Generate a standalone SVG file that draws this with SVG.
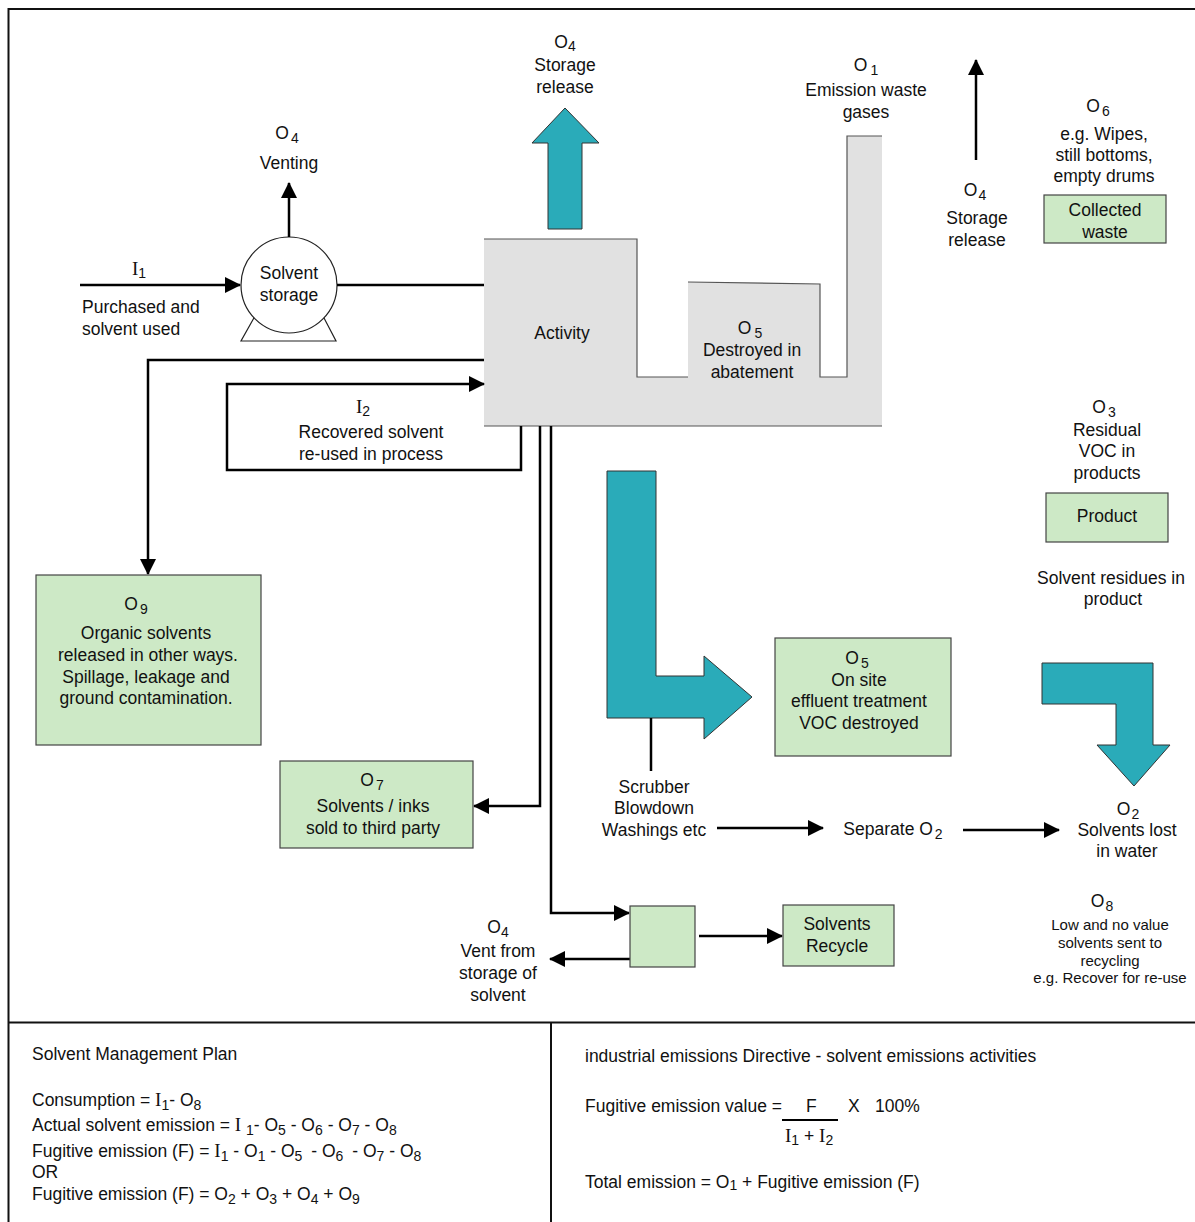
<svg xmlns="http://www.w3.org/2000/svg" width="1195" height="1222" viewBox="0 0 1195 1222">
<style>
text{font-family:"Liberation Sans",Arial,sans-serif;font-size:17.5px;fill:#111}
.c{text-anchor:middle}
.sm{font-size:15px}
.sub{font-size:14px}
.ser{font-family:"Liberation Serif","Times New Roman",serif;font-size:19px}
.frame{stroke:#111;stroke-width:2;fill:none}
.conn{stroke:#000;stroke-width:2.5;fill:none}
.box{fill:#cde9c6;stroke:#444;stroke-width:1.2}
.teal{fill:#2aabb9;stroke:#333;stroke-width:1}
</style>
<defs>
<marker id="ah" markerUnits="userSpaceOnUse" markerWidth="16" markerHeight="16" refX="15" refY="8" orient="auto">
<path d="M0,0 L16,8 L0,16 z" fill="#000"/>
</marker>
</defs>
<rect width="1195" height="1222" fill="#fff"/>
<g id="frame">
<path class="frame" d="M8.5,1222 V9 H1195 M8,1022.5 H1195 M551,1022 V1222"/>
</g>
<g id="activity">
<polygon points="484,239 637,239 637,377 688,377 688,282 820,284 820,377 847,377 847,136 882,136 882,426 484,426" fill="#e1e1e1"/>
<path d="M484,239 H637 V377 H688 M688,282 L820,284 V377 H847 V136 H882 M484,426 H882" fill="none" stroke="#555" stroke-width="1.2"/>
<text class="c" x="562" y="339">Activity</text>
<text class="c" x="750" y="334">O<tspan class="sub" dx="3" dy="4">5</tspan></text>
<text class="c" x="752" y="356">Destroyed in</text>
<text class="c" x="752" y="378">abatement</text>
</g>
<g id="storage">
<polygon points="241,341 336,341 323,316 255,316" fill="#fff" stroke="#222" stroke-width="1.2"/>
<circle cx="289" cy="285" r="48" fill="#fff" stroke="#222" stroke-width="1.2"/>
<text class="c" x="289" y="279">Solvent</text>
<text class="c" x="289" y="301">storage</text>
</g>
<g id="teal-arrows">
<polygon class="teal" points="548,229 582,229 582,143 599,143 565,108 532,143 548,143"/>
<polygon class="teal" points="607,471 656,471 656,676 704,676 704,656 752,697 704,739 704,718 607,718"/>
<polygon class="teal" points="1042,663 1153,663 1153,745 1170,745 1134,786 1097,745 1116,745 1116,704 1042,704"/>
</g>
<g id="connectors">
<path class="conn" d="M80,285 H240" marker-end="url(#ah)"/>
<path class="conn" d="M289,237 V183" marker-end="url(#ah)"/>
<path class="conn" d="M337,285 H484"/>
<path class="conn" d="M484,360 H148 V574" marker-end="url(#ah)"/>
<path class="conn" d="M521,426 V470 H227 V384 H484" marker-end="url(#ah)"/>
<path class="conn" d="M540,426 V806 H474" marker-end="url(#ah)"/>
<path class="conn" d="M551,426 V913 H629" marker-end="url(#ah)"/>
<path class="conn" d="M630,959 H550" marker-end="url(#ah)"/>
<path class="conn" d="M699,936 H782" marker-end="url(#ah)"/>
<path class="conn" d="M651,718 V771"/>
<path class="conn" d="M717,828 H823" marker-end="url(#ah)"/>
<path class="conn" d="M963,830 H1059" marker-end="url(#ah)"/>
<path class="conn" d="M976,160 V60" marker-end="url(#ah)"/>
</g>
<g id="labels-top">
<text class="c" x="287" y="139">O<tspan class="sub" dx="2" dy="4">4</tspan></text>
<text class="c" x="289" y="169">Venting</text>
<text class="ser" x="132" y="275">I<tspan class="sub" font-family="Liberation Sans" dy="3">1</tspan></text>
<text x="82" y="313">Purchased and</text>
<text x="82" y="335">solvent used</text>
<text class="c" x="565" y="48">O<tspan class="sub" dy="3">4</tspan></text>
<text class="c" x="565" y="71">Storage</text>
<text class="c" x="565" y="93">release</text>
<text class="c" x="866" y="71">O<tspan class="sub" dx="3" dy="4">1</tspan></text>
<text class="c" x="866" y="96">Emission waste</text>
<text class="c" x="866" y="118">gases</text>
<text class="c" x="975" y="196">O<tspan class="sub" dx="1" dy="4">4</tspan></text>
<text class="c" x="977" y="224">Storage</text>
<text class="c" x="977" y="246">release</text>
<text class="c" x="1098" y="112">O<tspan class="sub" dx="2" dy="4">6</tspan></text>
<text class="c" x="1104" y="140">e.g. Wipes,</text>
<text class="c" x="1104" y="161">still bottoms,</text>
<text class="c" x="1104" y="182">empty drums</text>
</g>
<g id="collected-waste">
<rect class="box" x="1044" y="195" width="122" height="48"/>
<text class="c" x="1105" y="216">Collected</text>
<text class="c" x="1105" y="238">waste</text>
</g>
<g id="i2-label">
<text class="ser" x="356" y="413">I<tspan class="sub" font-family="Liberation Sans" dy="3">2</tspan></text>
<text class="c" x="371" y="438">Recovered solvent</text>
<text class="c" x="371" y="460">re-used in process</text>
</g>
<g id="product">
<text class="c" x="1104" y="413">O<tspan class="sub" dx="2" dy="4">3</tspan></text>
<text class="c" x="1107" y="436">Residual</text>
<text class="c" x="1107" y="457">VOC in</text>
<text class="c" x="1107" y="479">products</text>
<rect class="box" x="1046" y="493" width="122" height="49"/>
<text class="c" x="1107" y="522">Product</text>
<text class="c" x="1111" y="584">Solvent residues in</text>
<text class="c" x="1113" y="605">product</text>
</g>
<g id="o9">
<rect class="box" x="36" y="575" width="225" height="170"/>
<text class="c" x="136" y="610">O<tspan class="sub" dx="2" dy="4">9</tspan></text>
<text class="c" x="146" y="639">Organic solvents</text>
<text class="c" x="148" y="661">released in other ways.</text>
<text class="c" x="146" y="683">Spillage, leakage and</text>
<text class="c" x="146" y="704">ground contamination.</text>
</g>
<g id="o5-effluent">
<rect class="box" x="775" y="638" width="176" height="118"/>
<text class="c" x="857" y="664">O<tspan class="sub" dx="2" dy="4">5</tspan></text>
<text class="c" x="859" y="686">On site</text>
<text class="c" x="859" y="707">effluent treatment</text>
<text class="c" x="859" y="729">VOC destroyed</text>
</g>
<g id="o7">
<rect class="box" x="280" y="761" width="193" height="87"/>
<text class="c" x="372" y="786">O<tspan class="sub" dx="2" dy="4">7</tspan></text>
<text class="c" x="373" y="812">Solvents / inks</text>
<text class="c" x="373" y="834">sold to third party</text>
</g>
<g id="water">
<text class="c" x="654" y="793">Scrubber</text>
<text class="c" x="654" y="814">Blowdown</text>
<text class="c" x="654" y="836">Washings etc</text>
<text class="c" x="893" y="835">Separate O<tspan class="sub" dx="2" dy="4">2</tspan></text>
<text class="c" x="1128" y="815">O<tspan class="sub" dx="1" dy="4">2</tspan></text>
<text class="c" x="1127" y="836">Solvents lost</text>
<text class="c" x="1127" y="857">in water</text>
</g>
<g id="o8">
<text class="c" x="1102" y="907">O<tspan class="sub" dx="1" dy="4">8</tspan></text>
<text class="c sm" x="1110" y="930">Low and no value</text>
<text class="c sm" x="1110" y="948">solvents sent to</text>
<text class="c sm" x="1110" y="966">recycling</text>
<text class="c sm" x="1110" y="983">e.g. Recover for re-use</text>
</g>
<g id="recycle">
<rect class="box" x="630" y="906" width="65" height="61"/>
<rect class="box" x="783" y="905" width="111" height="61"/>
<text class="c" x="837" y="930">Solvents</text>
<text class="c" x="837" y="952">Recycle</text>
<text class="c" x="498" y="933">O<tspan class="sub" dy="4">4</tspan></text>
<text class="c" x="498" y="957">Vent from</text>
<text class="c" x="498" y="979">storage of</text>
<text class="c" x="498" y="1001">solvent</text>
</g>
<g id="plan">
<text x="32" y="1060">Solvent Management Plan</text>
<text x="32" y="1106">Consumption = <tspan class="ser" font-size="17">I</tspan><tspan class="sub" dy="4">1</tspan><tspan dy="-4">- O</tspan><tspan class="sub" dy="4">8</tspan></text>
<text x="32" y="1131">Actual solvent emission = <tspan class="ser" font-size="17">I </tspan><tspan class="sub" dy="4">1</tspan><tspan dy="-4">- O</tspan><tspan class="sub" dy="4">5</tspan><tspan dy="-4"> - O</tspan><tspan class="sub" dy="4">6</tspan><tspan dy="-4"> - O</tspan><tspan class="sub" dy="4">7</tspan><tspan dy="-4"> - O</tspan><tspan class="sub" dy="4">8</tspan></text>
<text x="32" y="1157">Fugitive emission (F) = <tspan class="ser" font-size="17">I</tspan><tspan class="sub" dy="4">1</tspan><tspan dy="-4"> - O</tspan><tspan class="sub" dy="4">1</tspan><tspan dy="-4"> - O</tspan><tspan class="sub" dy="4">5</tspan><tspan dy="-4" dx="4"> - O</tspan><tspan class="sub" dy="4">6</tspan><tspan dy="-4" dx="4"> - O</tspan><tspan class="sub" dy="4">7</tspan><tspan dy="-4"> - O</tspan><tspan class="sub" dy="4">8</tspan></text>
<text x="32" y="1178">OR</text>
<text x="32" y="1200">Fugitive emission (F) = O<tspan class="sub" dy="4">2</tspan><tspan dy="-4"> + O</tspan><tspan class="sub" dy="4">3</tspan><tspan dy="-4"> + O</tspan><tspan class="sub" dy="4">4</tspan><tspan dy="-4"> + O</tspan><tspan class="sub" dy="4">9</tspan></text>
</g>
<g id="directive">
<text x="585" y="1062">industrial emissions Directive - solvent emissions activities</text>
<text x="585" y="1112">Fugitive emission value =</text>
<text x="806" y="1112">F</text>
<text x="848" y="1112">X</text>
<text x="875" y="1112">100%</text>
<line x1="782" y1="1120" x2="838" y2="1120" stroke="#000" stroke-width="2"/>
<text x="785" y="1142"><tspan class="ser">I</tspan><tspan class="sub" dy="3">1</tspan><tspan dy="-3"> + </tspan><tspan class="ser">I</tspan><tspan class="sub" dy="3">2</tspan></text>
<text x="585" y="1188">Total emission = O<tspan class="sub" dy="2">1</tspan><tspan dy="-2"> +  Fugitive emission (F)</tspan></text>
</g>
</svg>
